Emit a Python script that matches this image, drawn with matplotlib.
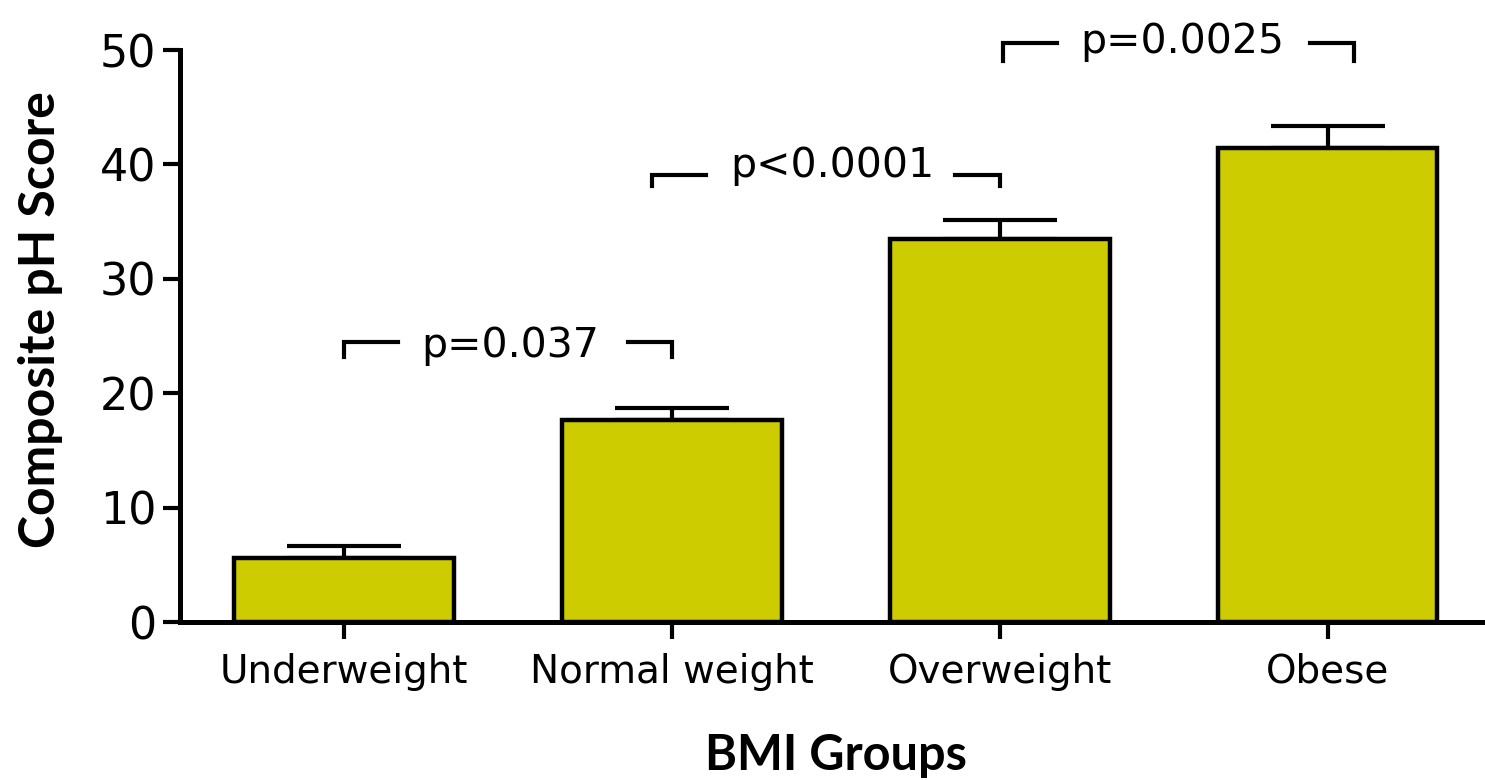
import matplotlib
matplotlib.use("Agg")
import matplotlib.pyplot as plt

# ---- data ----
categories = ["Underweight", "Normal weight", "Overweight", "Obese"]
means = [5.6, 17.7, 33.5, 41.4]
sems = [1.0, 1.0, 1.6, 2.0]
yticks = [0, 10, 20, 30, 40, 50]

p_labels = ["p=0.037", "p<0.0001", "p=0.0025"]
p_start = [0.0, 0.94, 2.01]
p_end = [1.0, 2.0, 3.08]
p_height = [24.45, 39.1, 50.65]
p_drop = [1.3, 1.0, 1.6]
p_text_y = [23.2, 38.9, 49.7]
p_text_x = [0.506, 1.488, 2.558]

W, H = 1485, 780
fig = plt.figure(figsize=(W / 100, H / 100), dpi=100)
ax = fig.add_axes([180 / W, 1 - 622 / H, 1 - 180 / W, (622 - 50) / H])

x = list(range(len(categories)))
ax.bar(x, means, width=0.67, color="#cccc00", edgecolor="black", linewidth=3.2, zorder=2)
ax.errorbar(x, means, yerr=[[0] * len(sems), sems], fmt="none", ecolor="black",
            elinewidth=3, capsize=41, capthick=3, zorder=1)

ax.set_xlim(-0.5, 3.48)
ax.set_ylim(0, 50)
ax.set_yticks(yticks)
ax.set_xticks(x)
ax.set_xticklabels(categories, fontsize=28, family="DejaVu Sans")
ax.set_yticklabels([str(v) for v in yticks], fontsize=32, family="DejaVu Sans")
ax.tick_params(axis="both", direction="out", length=12, width=3, color="black")
ax.tick_params(axis="y", pad=5)
ax.tick_params(axis="x", pad=10)
for s in ["top", "right"]:
    ax.spines[s].set_visible(False)
for s in ["left", "bottom"]:
    ax.spines[s].set_linewidth(3.6)

seg = 0.165
for lab, a, b, h, d, ty, tx in zip(p_labels, p_start, p_end, p_height, p_drop, p_text_y, p_text_x):
    ax.plot([a, a, a + seg], [h - d, h, h], color="black", lw=3, clip_on=False, solid_joinstyle="miter")
    ax.plot([b - seg + 0.03, b, b], [h, h, h - d], color="black", lw=3, clip_on=False, solid_joinstyle="miter")
    ax.text(tx, ty, lab, ha="center", va="baseline", fontsize=29.5, family="DejaVu Sans", clip_on=False)

fig.text(41 / W, 1 - 320 / H, "Composite pH Score", rotation=90, ha="center", va="center",
         fontsize=36, fontweight="bold", family="Lato")
fig.text(836 / W, 1 - 755 / H, "BMI Groups", ha="center", va="center",
         fontsize=35, fontweight="bold", family="Lato")

fig.savefig("out.png", dpi=100)
